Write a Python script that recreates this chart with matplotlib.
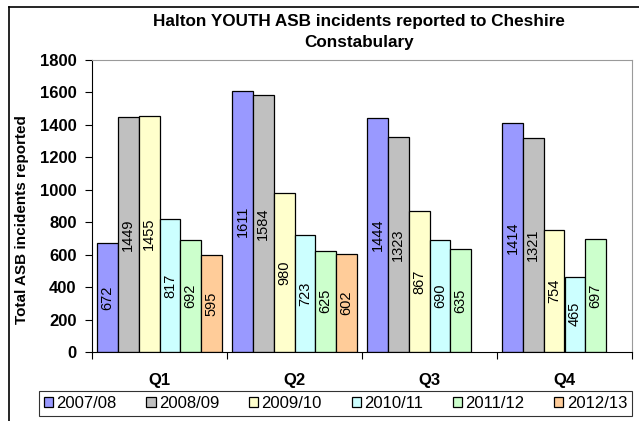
import numpy as np
import matplotlib
matplotlib.use('Agg')
import matplotlib.pyplot as plt
from matplotlib.lines import Line2D

plt.rcParams['font.family'] = ['Liberation Sans', 'DejaVu Sans']

# Data
quarters = ['Q1', 'Q2', 'Q3', 'Q4']
years = ['2007/08', '2008/09', '2009/10', '2010/11', '2011/12', '2012/13']
values = {
    '2007/08': [672, 1611, 1444, 1414],
    '2008/09': [1449, 1584, 1323, 1321],
    '2009/10': [1455, 980, 867, 754],
    '2010/11': [817, 723, 690, 465],
    '2011/12': [692, 625, 635, 697],
    '2012/13': [595, 602, np.nan, np.nan],
}
colors = ['#9999FF', '#C0C0C0', '#FFFFCC', '#CCFFFF', '#CCFFCC', '#FFCC99']

fig = plt.figure(figsize=(6.39, 4.21), dpi=100)
ax = fig.add_axes([92 / 639, 1 - 352 / 421, 540 / 639, 292 / 421])

x = np.arange(len(quarters))
w = 1 / 6.5

for i, yr in enumerate(years):
    vals = np.array(values[yr], dtype=float)
    pos = x + (i - 2.5) * w
    ok = ~np.isnan(vals)
    ax.bar(pos[ok], vals[ok], width=w, color=colors[i], edgecolor='black',
           linewidth=0.9, label=yr)
    for p, v in zip(pos[ok], vals[ok]):
        ax.text(p, v / 2, f'{int(v)}', rotation=90, ha='center', va='center',
                fontsize=10.5)

ax.set_xlim(-0.5, 3.5)
ax.set_ylim(0, 1800)
ax.set_yticks(range(0, 1801, 200))
ax.set_xticks(x)
ax.set_xticklabels(quarters, fontweight='bold', fontsize=12)
ax.set_xticks(np.arange(-0.5, 3.6, 1), minor=True)
ax.tick_params(axis='x', which='major', length=0, pad=15)
ax.tick_params(axis='x', which='minor', length=5, direction='out', width=0.8)
ax.tick_params(axis='y', length=5, width=0.8, direction='out', labelsize=12, pad=6)
for lbl in ax.get_yticklabels():
    lbl.set_fontweight('bold')

for s in ['top', 'right']:
    ax.spines[s].set_color('#9a9a9a')
    ax.spines[s].set_linewidth(0.8)
for s in ['left', 'bottom']:
    ax.spines[s].set_color('black')
    ax.spines[s].set_linewidth(0.8)

fig.text(22 / 639, 1 - 220 / 421, 'Total ASB incidents reported', rotation=90,
         ha='center', va='center', fontweight='bold', fontsize=11)

fig.text(359 / 639, 1 - 32 / 421,
         'Halton YOUTH ASB incidents reported to Cheshire\nConstabulary',
         ha='center', va='center', fontweight='bold', fontsize=12.3,
         linespacing=1.45)

# outer chart border (only left and top visible in frame)
fig.add_artist(Line2D([9 / 639, 9 / 639], [0, 1 - 7 / 421], color='black', lw=1.2))
fig.add_artist(Line2D([9 / 639, 1], [1 - 7 / 421, 1 - 7 / 421], color='black', lw=1.2))

leg = fig.legend(loc='upper left', ncol=6,
                 bbox_to_anchor=(39 / 639, 1 - 391 / 421, 593 / 639, 0.0),
                 mode='expand', frameon=True, fancybox=False, fontsize=12,
                 handlelength=0.55, handleheight=0.55, handletextpad=0.2,
                 borderpad=0.3, borderaxespad=0, columnspacing=1.0)
leg.get_frame().set_edgecolor('black')
leg.get_frame().set_linewidth(0.8)

fig.savefig('out.png', dpi=100)
